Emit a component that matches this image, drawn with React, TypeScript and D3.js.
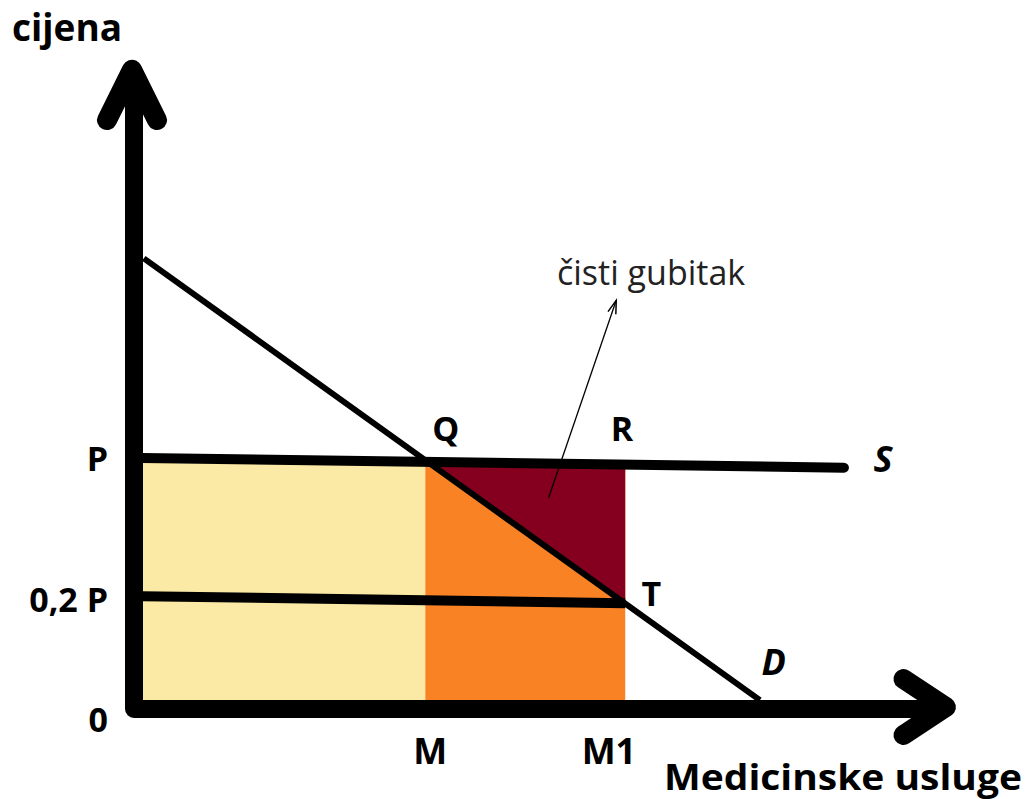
import React, { useEffect, useRef } from 'react';
import * as d3 from 'd3';

// quantity / price in chart units (0..100 on each axis)
const demand: [number, number][] = [[1.2, 69.3], [76.7, 0.9]];
const supply: [number, number][] = [[1, 38.4], [87, 36.9]];
const subsidised: [number, number][] = [[1, 17.0], [60.2, 15.9]];
const quantities = { M: 35.7, M1: 60.2 };
const priceLevels = { P: 37.7, P02: 16.2 };

const priceLabels = [
  { text: 'P', value: 38.4 },
  { text: '0,2 P', value: 16.6 },
  { text: '0', value: -2 },
];
const qtyLabels = [
  { text: 'M', value: 36.3 },
  { text: 'M1', value: 58.2 },
];
const pointLabels = [
  { text: 'Q', q: 38.2, p: 41 },
  { text: 'R', q: 59.8, p: 41 },
  { text: 'T', q: 63.4, p: 15.5 },
];

const WIDTH = 1029;
const HEIGHT = 799;

const App = () => {
  const svgRef = useRef<SVGSVGElement | null>(null);

  useEffect(() => {
    const svg = d3.select(svgRef.current);
    svg.selectAll('*').remove();

    const x = d3.scaleLinear().domain([0, 100]).range([134, 950]);
    const y = d3.scaleLinear().domain([0, 100]).range([706, 60]);
    const font = '"Open Sans", "DejaVu Sans", sans-serif';

    const line = d3.line<[number, number]>().x(d => x(d[0])).y(d => y(d[1]));

    // demand as price -> quantity and quantity -> price (for the Q and T corners)
    const dq = d3.scaleLinear().domain([demand[0][1], demand[1][1]]).range([demand[0][0], demand[1][0]]);
    const dp = d3.scaleLinear().domain([demand[0][0], demand[1][0]]).range([demand[0][1], demand[1][1]]);
    const qQ = dq(priceLevels.P);
    const pT = dp(quantities.M1);

    // fills
    svg.append('rect')
      .attr('x', x(0)).attr('y', y(priceLevels.P))
      .attr('width', x(quantities.M) - x(0))
      .attr('height', y(0) - y(priceLevels.P))
      .attr('fill', '#FBE9A6');
    svg.append('rect')
      .attr('x', x(quantities.M)).attr('y', y(priceLevels.P))
      .attr('width', x(quantities.M1) - x(quantities.M))
      .attr('height', y(0) - y(priceLevels.P))
      .attr('fill', '#F98225');
    svg.append('path')
      .attr('d', line([[qQ, priceLevels.P], [quantities.M1, priceLevels.P], [quantities.M1, pT]]) + 'Z')
      .attr('fill', '#85001E');

    // lines
    svg.append('path').attr('d', line(supply)).attr('stroke', '#000').attr('stroke-width', 10)
      .attr('stroke-linecap', 'round').attr('fill', 'none');
    svg.append('path').attr('d', line(subsidised)).attr('stroke', '#000').attr('stroke-width', 10)
      .attr('fill', 'none');
    svg.append('path').attr('d', line(demand)).attr('stroke', '#000').attr('stroke-width', 6)
      .attr('fill', 'none');

    // axes with arrow heads
    const ox = x(0);
    const oy = y(0) + 3;
    svg.append('path')
      .attr('d', `M${ox},${y(98.5)} L${ox},${oy} L${x(99)},${oy}`)
      .attr('stroke', '#000').attr('stroke-width', 18).attr('fill', 'none')
      .attr('stroke-linejoin', 'round');
    svg.append('path')
      .attr('d', `M${ox - 27},${y(90.7)} L${ox - 2},${y(98.5)} L${ox + 23},${y(90.7)}`)
      .attr('stroke', '#000').attr('stroke-width', 20).attr('fill', 'none')
      .attr('stroke-linejoin', 'round').attr('stroke-linecap', 'round');
    svg.append('path')
      .attr('d', `M${x(94.3)},${oy - 30} L${x(99.5)},${oy - 2} L${x(94.3)},${oy + 26}`)
      .attr('stroke', '#000').attr('stroke-width', 20).attr('fill', 'none')
      .attr('stroke-linejoin', 'round').attr('stroke-linecap', 'round');

    // annotation arrow
    const ann = { from: [50.8, 32.2] as [number, number], to: [59.1, 62.8] as [number, number] };
    const ax1 = x(ann.from[0]), ay1 = y(ann.from[1]), ax2 = x(ann.to[0]), ay2 = y(ann.to[1]);
    svg.append('line')
      .attr('x1', ax1).attr('y1', ay1).attr('x2', ax2).attr('y2', ay2)
      .attr('stroke', '#000').attr('stroke-width', 1.3);
    const ang = Math.atan2(ay2 - ay1, ax2 - ax1);
    const head = (a: number) => [ax2 - 14 * Math.cos(ang + a), ay2 - 14 * Math.sin(ang + a)];
    const h1 = head(0.3), h2 = head(-0.3);
    svg.append('path')
      .attr('d', `M${h1[0]},${h1[1]} L${ax2},${ay2} L${h2[0]},${h2[1]}`)
      .attr('stroke', '#000').attr('stroke-width', 1.5).attr('fill', 'none');

    // labels
    const bold = (t: string, px: number, py: number, anchor: string, size = 34) =>
      svg.append('text').attr('x', px).attr('y', py).attr('text-anchor', anchor)
        .attr('font-family', font).attr('font-weight', 'bold').attr('font-size', size)
        .attr('fill', '#000').text(t);

    bold('cijena', 12, 41, 'start', 37);
    priceLabels.forEach(d => bold(d.text, 108, y(d.value) + 13, 'end'));
    qtyLabels.forEach(d => bold(d.text, x(d.value), 764, 'middle', 36));
    pointLabels.forEach(d => bold(d.text, x(d.q), y(d.p), 'middle'));
    bold('Medicinske usluge', 664, 790, 'start', 36)
      .attr('textLength', 358).attr('lengthAdjust', 'spacingAndGlyphs');
    bold('S', x(91.8), y(36.2), 'middle', 36).attr('font-style', 'italic');
    bold('D', x(78.4), y(4.8), 'middle', 36).attr('font-style', 'italic');

    svg.append('text').attr('x', 557).attr('y', 285)
      .attr('font-family', font).attr('font-size', 34).attr('fill', '#222')
      .text('čisti gubitak');
  }, []);

  return (
    <svg ref={svgRef} width={WIDTH} height={HEIGHT}
      style={{ position: 'absolute', left: 0, top: 0, background: '#fff' }} />
  );
};

export default App;
